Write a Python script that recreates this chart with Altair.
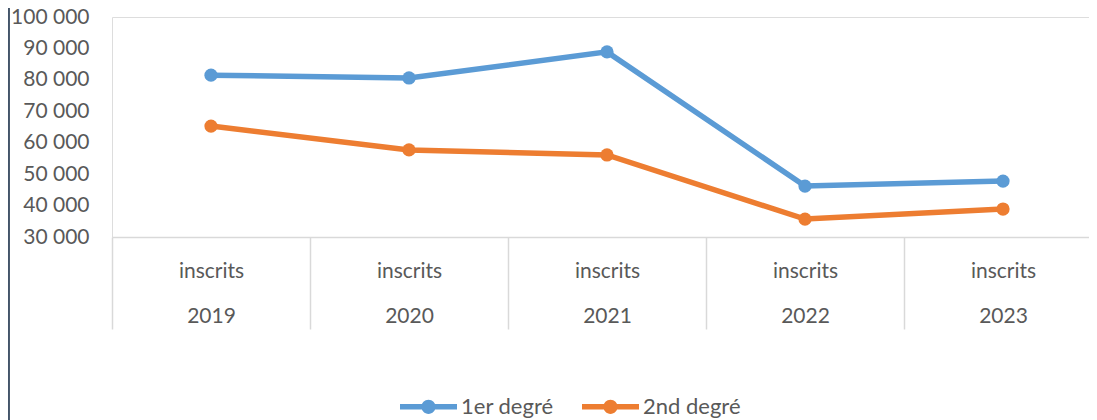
import altair as alt
import pandas as pd

years = ["2019", "2020", "2021", "2022", "2023"]
sub_label = "inscrits"
series_names = ["1er degré", "2nd degré"]
premier = [81500, 80600, 88900, 46200, 47800]
second = [65300, 57700, 56100, 35700, 38900]
y_ticks = [30000, 40000, 50000, 60000, 70000, 80000, 90000, 100000]
colors = ["#5B9BD5", "#ED7D31"]

rows = []
for i, y in enumerate(years):
    rows.append({"year": y, "serie": series_names[0], "value": premier[i]})
    rows.append({"year": y, "serie": series_names[1], "value": second[i]})
df = pd.DataFrame(rows)

FONT = "Lato"
TXT = "#595959"
GRID = "#D9D9D9"

legend_path = ("M-1,-0.1L1,-0.1L1,0.1L-1,0.1Z "
               "M-0.25,0A0.25,0.25 0 1,1 0.25,0A0.25,0.25 0 1,1 -0.25,0Z")

x_enc = alt.X(
    "year:N",
    sort=years,
    title=None,
    scale=alt.Scale(type="band", paddingInner=0, paddingOuter=0, range=[0, 990]),
    axis=alt.Axis(
        labelAngle=0,
        labelExpr="datum.label ? ['" + sub_label + "', datum.label] : ''",
        labelFont=FONT,
        labelFontSize=21,
        labelColor=TXT,
        labelLineHeight=45,
        labelBaseline="alphabetic",
        labelPadding=-52,
        labelOverlap=False,
        labelBound=False,
        labelFlush=False,
        domainColor=GRID,
        domainWidth=1.5,
        tickColor=GRID,
        tickWidth=1.5,
        tickSize=92,
        tickBand="extent",
        grid=False,
    ),
)

y_enc = alt.Y(
    "value:Q",
    title=None,
    scale=alt.Scale(domain=[30000, 100000], nice=False, zero=False),
    axis=alt.Axis(
        values=y_ticks,
        labelExpr="replace(format(datum.value, ','), ',', ' ')",
        labelFont=FONT,
        labelFontSize=21,
        labelColor=TXT,
        labelPadding=23,
        ticks=False,
        tickSize=0,
        domain=False,
        grid=False,
    ),
)

color_enc = alt.Color(
    "serie:N",
    sort=series_names,
    scale=alt.Scale(domain=series_names, range=colors),
    legend=alt.Legend(
        title=None,
        orient="none",
        direction="horizontal",
        legendX=288,
        legendY=361,
        symbolType=legend_path,
        symbolSize=3249,
        symbolStrokeWidth=0,
        symbolOpacity=1,
        labelFont=FONT,
        labelFontSize=22,
        labelColor=TXT,
        labelOffset=4,
        columnPadding=28,
    ),
)

base = alt.Chart(df).encode(x=x_enc, y=y_enc, color=color_enc)
lines = base.mark_line(strokeWidth=5.5)
points = base.mark_point(filled=True, size=175, opacity=1)

border = alt.Chart(df).mark_rule(color="#44546A", strokeWidth=1.5).encode(
    x=alt.value(-103.5), y=alt.value(-9), y2=alt.value(405)
)

chart = alt.layer(lines, points, border).properties(
    width=977,
    height=220,
    padding={"left": 104, "top": 9, "right": 0, "bottom": 183},
    autosize=alt.AutoSizeParams(type="none"),
).configure_view(stroke=None).configure(background="white")

chart.save("out.html", embed_options={"renderer": "svg", "actions": False})
